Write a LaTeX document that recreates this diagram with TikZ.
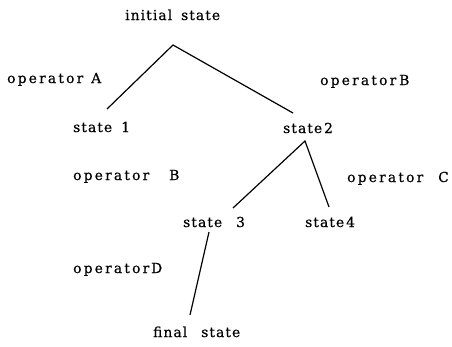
\documentclass[tikz,border=0pt]{standalone}
\usepackage{fontspec}
\setmainfont{DejaVu Serif}[LetterSpace=16,FakeBold=0.6]
\newcommand{\Wst}{{\addfontfeature{LetterSpace=8}state}}
\begin{document}
\begin{tikzpicture}[x=1pt,y=-1pt,
  lbl/.style={inner sep=0pt,font=\fontsize{13.8}{16}\selectfont,anchor=base west},
  edge/.style={line width=1.2pt}]
\useasboundingbox (0,0) rectangle (452,346);
\node[lbl] (init) at (125,20) {{\addfontfeature{LetterSpace=8}initial}\kern9pt \Wst};
\node[lbl] (opA) at (7,83) {operator\kern8pt A};
\node[lbl] (opB1) at (320,85) {operator\kern3pt B};
\node[lbl] (s1) at (73,132) {\Wst\kern9pt 1};
\node[lbl] (s2) at (283,133) {\Wst\kern2pt 2};
\node[lbl] (opB2) at (73,180) {operator\kern20pt B};
\node[lbl] (opC) at (347,182) {operator\kern15pt C};
\node[lbl] (s3) at (183,227) {\Wst\kern14pt 3};
\node[lbl] (s4) at (305,227) {\Wst\kern2pt 4};
\node[lbl] (opD) at (73,273) {operator\kern2pt D};
\node[lbl] (fin) at (153,337) {{\addfontfeature{LetterSpace=8}final}\kern14pt \Wst};
\coordinate (r0) at (173,45);
\coordinate (e1) at (107,109);
\coordinate (e2) at (293,113);
\coordinate (r2) at (305,141);
\coordinate (e3) at (233,208);
\coordinate (e4) at (329,207);
\coordinate (r3) at (209,232);
\coordinate (e5) at (190,315);
\draw[edge] (e1) -- (r0) -- (e2);
\draw[edge] (e3) -- (r2) -- (e4);
\draw[edge] (r3) -- (e5);
\end{tikzpicture}
\end{document}
